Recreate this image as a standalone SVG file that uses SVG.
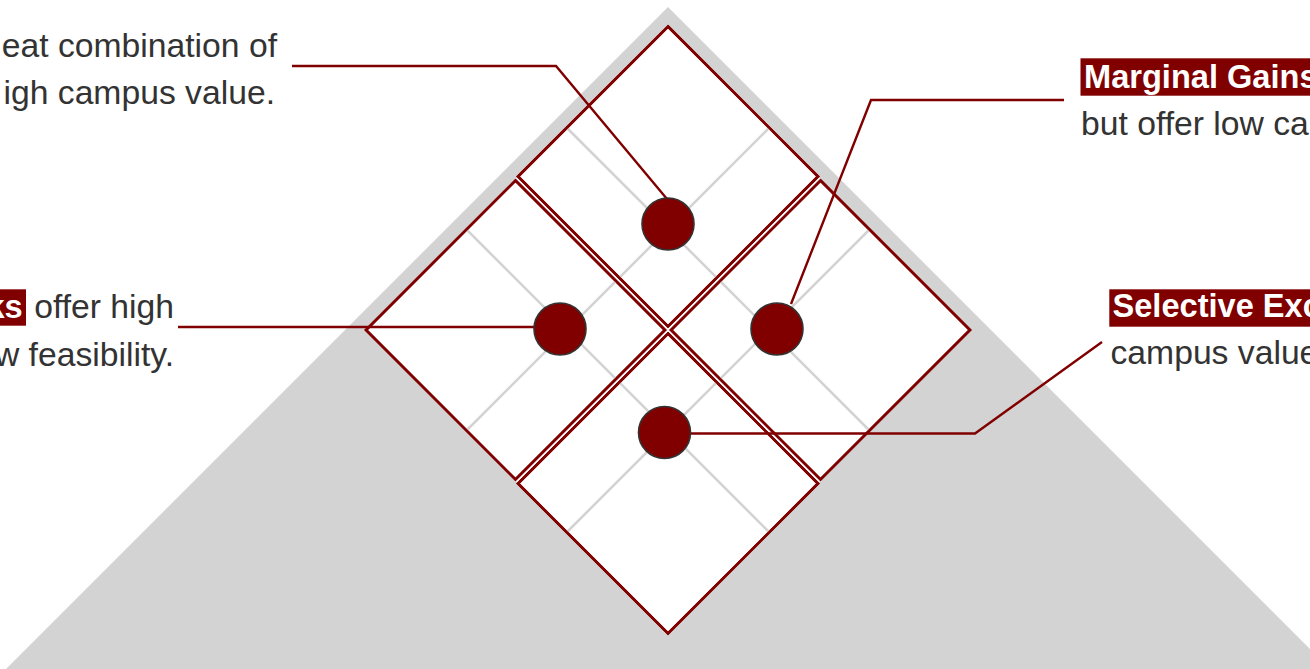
<svg xmlns="http://www.w3.org/2000/svg" width="1310" height="669" viewBox="0 0 1310 669">
<style>
.sub{fill:#ffffff;stroke:#800000;stroke-width:2.6;stroke-linejoin:miter}
.grid{stroke:#d3d3d3;stroke-width:2.6;fill:none}
.conn{stroke:#800000;stroke-width:2.4;fill:none}
.dot{fill:#800000;stroke:#333333;stroke-width:1.6}
.t{font-family:"Liberation Sans",Arial,sans-serif;font-size:33.7px;fill:#333333}
.hb{fill:#800000}
.ht{font-family:"Liberation Sans",Arial,sans-serif;font-size:32.6px;font-weight:bold;fill:#ffffff}
</style>
<defs>
<clipPath id="subs">
<polygon points="668,26.5 818,176.5 668,326.5 518,176.5"/>
<polygon points="515.5,180.5 665,330 515.5,479.5 366,330"/>
<polygon points="820.5,180.5 970,330 820.5,479.5 671,330"/>
<polygon points="668,333.5 818,483.5 668,633.5 518,483.5"/>
</clipPath>
</defs>
<rect width="1310" height="669" fill="#ffffff"/>
<polygon id="backdrop" points="668,7 1332,671 4,671" fill="#d3d3d3"/>
<polygon points="668,26 970,330 668,634 366,330" fill="#ffffff"/>
<g id="quadrants">
<polygon id="q-top" class="sub" points="668,26.5 818,176.5 668,326.5 518,176.5"/>
<polygon id="q-left" class="sub" points="515.5,180.5 665,330 515.5,479.5 366,330"/>
<polygon id="q-right" class="sub" points="820.5,180.5 970,330 820.5,479.5 671,330"/>
<polygon id="q-bottom" class="sub" points="668,333.5 818,483.5 668,633.5 518,483.5"/>
</g>
<g id="grid" clip-path="url(#subs)">
<line class="grid" x1="466" y1="431" x2="769" y2="128"/>
<line class="grid" x1="567" y1="532" x2="870" y2="229"/>
<line class="grid" x1="466" y1="229" x2="769" y2="532"/>
<line class="grid" x1="567" y1="128" x2="870" y2="431"/>
</g>
<g id="quadrants-outline" fill="none" stroke="#800000" stroke-width="2.6">
<polygon points="668,26.5 818,176.5 668,326.5 518,176.5"/>
<polygon points="515.5,180.5 665,330 515.5,479.5 366,330"/>
<polygon points="820.5,180.5 970,330 820.5,479.5 671,330"/>
<polygon points="668,333.5 818,483.5 668,633.5 518,483.5"/>
</g>
<g id="connectors">
<polyline class="conn" points="292,66 556,66 667,199"/>
<polyline class="conn" points="1064,100 871,100 791,304"/>
<polyline class="conn" points="178,327 540,327"/>
<polyline class="conn" points="1102,342 975,433.5 680,433.5"/>
</g>
<g id="node-top"><circle class="dot" cx="668" cy="224" r="26"/></g>
<g id="node-left"><circle class="dot" cx="560" cy="329" r="26"/></g>
<g id="node-right"><circle class="dot" cx="777" cy="329" r="26"/></g>
<g id="node-bottom"><circle class="dot" cx="664.5" cy="432.5" r="26"/></g>
<g id="label-top-left">
<text class="t" x="277" y="57" text-anchor="end">eat combination of</text>
<text class="t" x="275" y="104" text-anchor="end">igh campus value.</text>
</g>
<g id="label-top-right">
<rect class="hb" x="1080.5" y="58.3" width="240" height="37.4"/>
<text class="ht" x="1084" y="87.5">Marginal Gains</text>
<text class="t" x="1081" y="135">but offer low ca</text>
</g>
<g id="label-left">
<rect class="hb" x="0" y="289.3" width="26" height="36.4"/>
<text class="ht" x="22.7" y="317.5" text-anchor="end">ks</text>
<text class="t" x="174" y="317.5" text-anchor="end">offer high</text>
<text class="t" x="174" y="366" text-anchor="end">w feasibility.</text>
</g>
<g id="label-right">
<rect class="hb" x="1109.3" y="289.3" width="220" height="37.4"/>
<text class="ht" x="1112.5" y="316.5">Selective Exc</text>
<text class="t" x="1110.5" y="364">campus value</text>
</g>
</svg>
